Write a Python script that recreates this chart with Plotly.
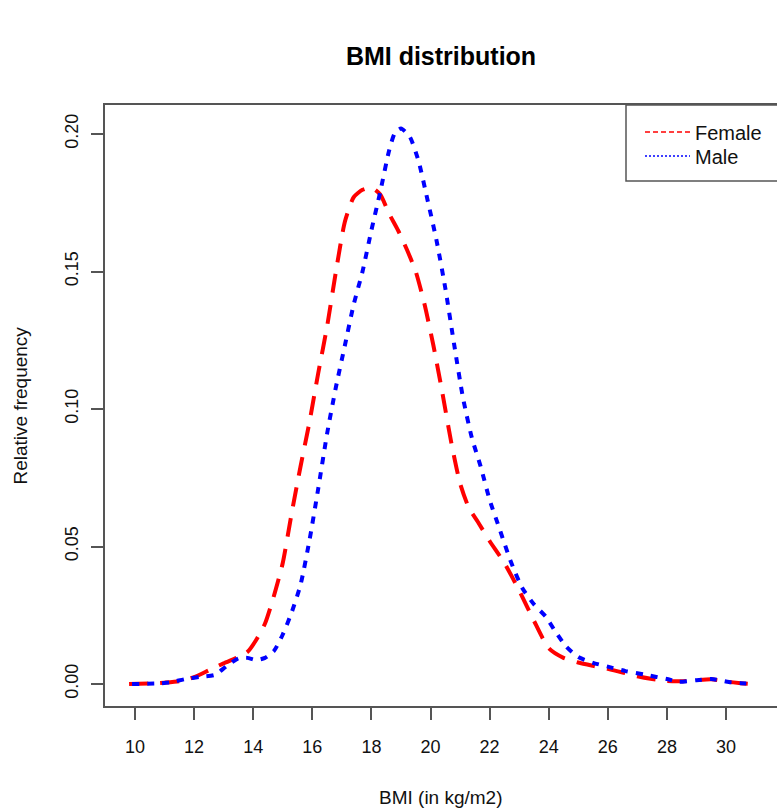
import plotly.graph_objects as go

# Female BMI density
female_x = [9.8, 10.5, 11.0, 11.5, 12.0, 12.5, 13.0, 13.5, 13.8, 14.1, 14.4, 14.7, 15.0, 15.3, 15.6,
            15.9, 16.2, 16.5, 16.8, 17.1, 17.4, 17.7, 18.0, 18.3, 18.6, 18.9, 19.2, 19.5, 19.8, 20.1,
            20.4, 20.7, 21.0, 21.3, 21.6, 22.0, 22.5, 23.0, 23.5, 24.0, 24.5, 25.0, 25.5, 26.0, 26.5,
            27.0, 27.5, 28.0, 28.5, 29.0, 29.5, 30.0, 30.5, 30.85]
female_y = [0.0, 0.0002, 0.0005, 0.001, 0.0025, 0.005, 0.0075, 0.0098, 0.0116, 0.016, 0.022, 0.032,
            0.044, 0.062, 0.079, 0.095, 0.113, 0.130, 0.150, 0.168, 0.177, 0.1797, 0.1805, 0.178,
            0.171, 0.165, 0.158, 0.150, 0.138, 0.123, 0.106, 0.088, 0.073, 0.064, 0.059, 0.052,
            0.044, 0.034, 0.023, 0.013, 0.0095, 0.0078, 0.0066, 0.0055, 0.0042, 0.0028, 0.0018,
            0.0011, 0.001, 0.0014, 0.0017, 0.0009, 0.0003, 0.0]

# Male BMI density
male_x = [9.9, 10.8, 11.2, 11.7, 12.2, 12.7, 13.1, 13.5, 13.8, 14.1, 14.4, 14.7, 15.0, 15.3, 15.6,
          15.9, 16.2, 16.5, 16.8, 17.1, 17.4, 17.7, 18.0, 18.3, 18.6, 18.8, 19.0, 19.3, 19.6, 19.9,
          20.2, 20.5, 20.8, 21.1, 21.4, 21.7, 22.0, 22.35, 22.7, 23.1, 23.5, 23.9, 24.2, 24.6, 25.0,
          25.5, 26.0, 26.6, 27.3, 28.0, 28.4, 29.0, 29.5, 30.1, 30.5, 30.9]
male_y = [0.0, 0.0002, 0.0006, 0.0018, 0.0026, 0.0033, 0.0065, 0.0093, 0.0095, 0.0087, 0.0095,
          0.012, 0.018, 0.026, 0.036, 0.052, 0.071, 0.091, 0.108, 0.123, 0.138, 0.150, 0.165,
          0.179, 0.194, 0.2005, 0.2020, 0.199, 0.190, 0.176, 0.1615, 0.144, 0.1235, 0.104, 0.0895,
          0.079, 0.067, 0.056, 0.045, 0.035, 0.029, 0.0245, 0.0195, 0.0135, 0.0098, 0.0077, 0.0063,
          0.0047, 0.0033, 0.0018, 0.0008, 0.0014, 0.0018, 0.0007, 0.0003, 0.0]

x_ticks = [10, 12, 14, 16, 18, 20, 22, 24, 26, 28, 30]
y_ticks = [0.00, 0.05, 0.10, 0.15, 0.20]
y_tick_labels = ["0.00", "0.05", "0.10", "0.15", "0.20"]

FONT = "Liberation Sans, Arial, Helvetica, sans-serif"
AXC = "#555555"

fig = go.Figure()
fig.add_trace(go.Scatter(x=female_x, y=female_y, mode="lines", name="Female", legendgroup="f",
                         showlegend=False,
                         line=dict(color="#ff0000", width=4, dash="19px,12px", shape="spline", smoothing=0.6)))
fig.add_trace(go.Scatter(x=male_x, y=male_y, mode="lines", name="Male", legendgroup="m",
                         showlegend=False,
                         line=dict(color="#0000ff", width=4, dash="7px,8px", shape="spline", smoothing=0.6)))
# legend entries (thin lines as in the original legend)
fig.add_trace(go.Scatter(x=[None], y=[None], mode="lines", name="Female", legendgroup="f",
                         legend="legend", line=dict(color="#ff0000", width=1.3, dash="5px,3px")))
fig.add_trace(go.Scatter(x=[None], y=[None], mode="lines", name="Male", legendgroup="m",
                         legend="legend2", line=dict(color="#0000ff", width=1.3, dash="2px,2px")))

W, H = 777, 809
L, T, B = 105, 105, 103
plot_w = W - L
plot_h = H - T - B
px_per_unit = 29.55
x0 = 10 - (135 - L) / px_per_unit
x1 = x0 + plot_w / px_per_unit

leg_common = dict(xanchor="left", yanchor="middle", bgcolor="rgba(0,0,0,0)", borderwidth=0,
                  font=dict(size=20, color="#111111"), itemwidth=45)

fig.update_layout(
    width=W, height=H,
    margin=dict(l=L, r=0, t=T, b=B),
    paper_bgcolor="white", plot_bgcolor="white",
    font=dict(family=FONT, size=19, color="#111111"),
    title=dict(text="<b>BMI distribution</b>", x=(L + plot_w / 2) / W, xanchor="center",
               y=1 - 56 / H, yanchor="middle", font=dict(size=25, color="#000000")),
    xaxis=dict(range=[x0, x1], tickvals=x_ticks, ticks="outside", ticklen=12, tickwidth=1.5,
               tickcolor=AXC, showline=True, linecolor=AXC, linewidth=1.5, mirror=True,
               showgrid=False, zeroline=False, ticklabelstandoff=12, tickfont=dict(size=18)),
    yaxis=dict(range=[-22 / 2750, 0.2 + 29 / 2750], tickvals=y_ticks, ticktext=y_tick_labels,
               ticks="outside", ticklen=12, tickwidth=1.5, tickcolor=AXC, showline=True,
               linecolor=AXC, linewidth=1.5, mirror=False, showgrid=False, zeroline=False,
               tickangle=-90, ticklabelstandoff=6, tickfont=dict(size=18)),
    legend=dict(x=(640 - L) / plot_w, y=(706 - 132) / plot_h, **leg_common),
    legend2=dict(x=(640 - L) / plot_w, y=(706 - 156) / plot_h, **leg_common),
    shapes=[dict(type="rect", xref="paper", yref="paper", x0=(626 - L) / plot_w, x1=1.2,
                 y0=(706 - 181) / plot_h, y1=1.0, line=dict(color=AXC, width=1.5),
                 fillcolor="white", layer="above")],
    annotations=[
        dict(text="BMI (in kg/m2)", xref="paper", yref="paper", x=0.5, y=0, yanchor="middle",
             yshift=-91, showarrow=False, font=dict(size=19)),
        dict(text="Relative frequency", xref="paper", yref="paper", x=0, y=0.5, xanchor="center",
             xshift=-85, textangle=-90, showarrow=False, font=dict(size=19)),
    ],
)

fig.write_html("out.html", config={"displayModeBar": False},
               post_script="document.body.style.margin='0';document.body.style.overflow='hidden';")
